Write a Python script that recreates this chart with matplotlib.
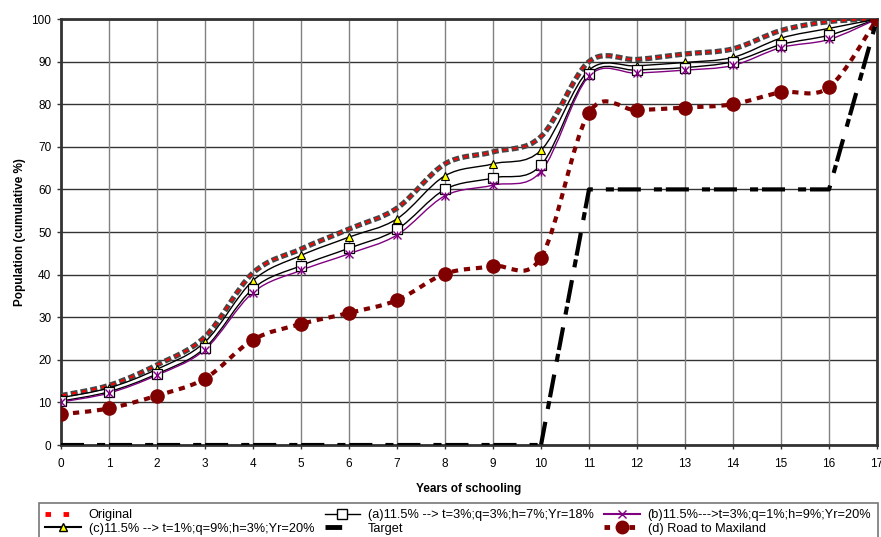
import matplotlib
matplotlib.use('Agg')
import matplotlib.pyplot as plt
from matplotlib.path import Path
from matplotlib.patches import PathPatch
from matplotlib.lines import Line2D
import numpy as np

plt.rcParams['font.family'] = ['Liberation Sans', 'DejaVu Sans']
plt.rcParams['lines.scale_dashes'] = False

# %% Données

annees = list(range(18))
original = [11.6, 14.0, 18.8, 25.4, 40.4, 46.0, 50.7, 55.6, 66.0, 68.8, 72.4,
            90.0, 90.5, 91.8, 93.0, 97.3, 99.4, 100.0]
scen_a = [10.3, 12.5, 16.7, 22.8, 36.7, 42.1, 46.2, 50.6, 60.0, 62.7, 65.7,
          87.0, 88.0, 88.6, 90.0, 94.0, 96.2, 100.0]
scen_b = [10.1, 12.2, 16.4, 22.4, 35.8, 41.0, 44.9, 49.3, 58.5, 61.0, 64.2,
          86.6, 87.3, 88.0, 89.1, 93.3, 95.2, 100.0]
scen_c = [11.1, 13.4, 17.8, 24.2, 38.6, 44.5, 48.8, 53.1, 63.2, 66.0, 69.2,
          88.0, 89.0, 89.8, 91.0, 95.5, 97.8, 100.0]
target = [0, 0, 0, 0, 0, 0, 0, 0, 0, 0, 0, 60, 60, 60, 60, 60, 60, 100]
maxiland = [7.2, 8.6, 11.6, 15.6, 24.7, 28.4, 31.0, 34.0, 40.2, 42.0, 44.0,
            78.0, 78.6, 79.2, 80.0, 82.8, 84.0, 100.0]

noms = ['Original',
        '(a)11.5% --> t=3%;q=3%;h=7%;Yr=18%',
        '(b)11.5%--->t=3%;q=1%;h=9%;Yr=20%',
        '(c)11.5% --> t=1%;q=9%;h=3%;Yr=20%',
        'Target',
        '(d) Road to Maxiland']

# %% Courbe lissée façon tableur (Bézier Catmull-Rom)

def chemin_lisse(x, y):
    p = np.column_stack([x, y]).astype(float)
    n = len(p)
    verts = [p[0]]
    codes = [Path.MOVETO]
    for i in range(n - 1):
        p0 = p[i - 1] if i > 0 else p[i]
        p3 = p[i + 2] if i + 2 < n else p[i + 1]
        c1 = p[i] + (p[i + 1] - p0) / 6
        c2 = p[i + 1] - (p3 - p[i]) / 6
        verts += [c1, c2, p[i + 1]]
        codes += [Path.CURVE4] * 3
    return Path(verts, codes)

def trace_lisse(ax, x, y, **kw):
    patch = PathPatch(chemin_lisse(x, y), fill=False, transform=ax.transData, **kw)
    ax.add_patch(patch)
    return patch

# %% Figure

fig = plt.figure(figsize=(8.81, 5.37), dpi=100)
ax = fig.add_axes([0.0692, 0.1713, 0.9263, 0.7933])

gris_h = '#333333'
gris_v = '#808080'
for v in range(0, 101, 10):
    ax.axhline(v, color=gris_h, lw=1.0, zorder=0)
for a in annees:
    ax.axvline(a, color=gris_v, lw=1.0, zorder=0)

# Original : ombre grise + tirets rouges
trace_lisse(ax, annees, original, edgecolor='#474747', lw=3.8,
            linestyle=(0, (5.0, 2.2)), capstyle='butt', zorder=3)
trace_lisse(ax, annees, original, edgecolor='red', lw=1.5,
            linestyle=(6.15, (2.9, 4.3)), capstyle='butt', zorder=4)

# (c)
trace_lisse(ax, annees, scen_c, edgecolor='black', lw=1.0, zorder=3)
ax.plot(annees, scen_c, ls='none', marker='^', ms=5.5, mfc='#ffff00', mec='black',
        mew=0.8, zorder=5)

# (a)
trace_lisse(ax, annees, scen_a, edgecolor='black', lw=1.0, zorder=3)
ax.plot(annees, scen_a, ls='none', marker='s', ms=7, mfc='white', mec='black',
        mew=0.9, zorder=5)

# (b)
trace_lisse(ax, annees, scen_b, edgecolor='#800080', lw=1.0, zorder=3)
ax.plot(annees, scen_b, ls='none', marker='x', ms=6, mec='#800080', mew=1.0, zorder=5)
ax.plot(annees, scen_b, ls='none', marker='|', ms=6, mec='#800080', mew=1.0, zorder=5)

# (d)
trace_lisse(ax, annees, maxiland, edgecolor='#800000', lw=3.0,
            linestyle=(0, (4.5, 4.2)), capstyle='butt', zorder=3)
ax.plot(annees, maxiland, ls='none', marker='o', ms=9.5, mfc='#800000',
        mec='#800000', zorder=5)

# Target
ax.plot(annees, target, color='black', lw=3.0, dashes=(16.6, 9.4, 5.8, 2.8),
        solid_capstyle='butt', dash_capstyle='butt', zorder=4)

ax.set_xlim(0, 17)
ax.set_ylim(0, 100)
ax.set_xticks(annees)
ax.set_yticks(range(0, 101, 10))
ax.tick_params(labelsize=8.5, length=3, width=1, color='#333333')
ax.tick_params(axis='x', pad=6)
ax.tick_params(axis='y', pad=4)
for s in ax.spines.values():
    s.set_linewidth(2.0)
    s.set_color('#333333')

ax.set_xlabel('Years of schooling', fontsize=8.5, fontweight='bold', labelpad=10)
ax.set_ylabel('Population (cumulative %)', fontsize=8.5, fontweight='bold', labelpad=4)

# %% Légende

h_orig = Line2D([], [], color='red', lw=3.5, dashes=(4, 9), dash_capstyle='butt')
h_a = Line2D([], [], color='black', lw=1.0, marker='s', ms=7, mfc='white', mec='black')
h_b = Line2D([], [], color='#800080', lw=1.5, marker='x', ms=6, mec='#800080')
h_c = Line2D([], [], color='black', lw=1.5, marker='^', ms=5.5, mfc='#ffff00', mec='black')
h_t = Line2D([], [], color='black', lw=3.5, dashes=(12, 15, 2, 7), dash_capstyle='butt')
h_d = Line2D([], [], color='#800000', lw=3.5, dashes=(4, 5), marker='o', ms=9,
             mfc='#800000', mec='#800000')

leg = fig.legend([h_orig, h_c, h_a, h_t, h_b, h_d],
                 [noms[0], noms[3], noms[1], noms[4], noms[2], noms[5]],
                 ncol=3, loc='upper left', bbox_to_anchor=(0.0443, 0.0633),
                 fontsize=9.2, frameon=True, fancybox=False, borderaxespad=0,
                 handlelength=2.8, handletextpad=0.6, columnspacing=0.8,
                 labelspacing=0.12, borderpad=0.5)
leg.get_frame().set_edgecolor('#555555')
leg.get_frame().set_linewidth(1.2)

fig.savefig('out.png', dpi=100)
